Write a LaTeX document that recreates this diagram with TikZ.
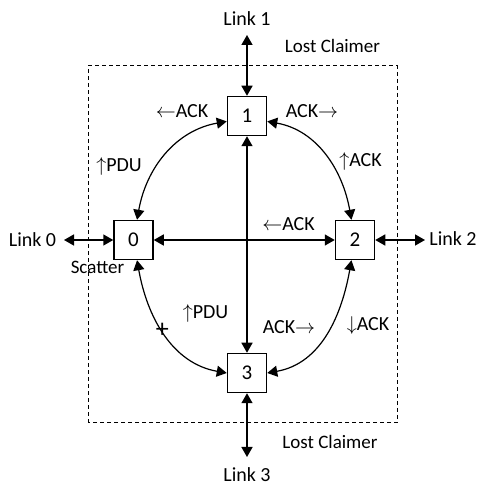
\documentclass[tikz,border=0pt]{standalone}
\usepackage{fontspec}
\setmainfont{Carlito}
\usetikzlibrary{arrows.meta}
\tikzset{
    station/.style={draw, line width=0.75pt, minimum size=19.5pt, inner sep=0pt, font=\fontsize{10.5}{12}\selectfont},
    msglabel/.style={anchor=base, inner sep=0pt, font=\fontsize{10}{12}\selectfont},
    smalllabel/.style={anchor=base, inner sep=0pt, font=\fontsize{9.5}{12}\selectfont},
    link/.style={line width=0.75pt, {Triangle[length=5pt,width=5.5pt]}-{Triangle[length=5pt,width=5.5pt]}},
    claim/.style={line width=0.6pt, {Triangle[length=5pt,width=5.5pt]}-{Triangle[length=5pt,width=5.5pt]}}
}

\begin{document}
\begin{tikzpicture}[x=0.5pt, y=0.5pt]
            \useasboundingbox (0,0) rectangle (479,487);
            % lost claimer region
            \draw[line width=0.5pt, dash pattern=on 2pt off 1.5pt] (88,64) rectangle (397,421);

            % stations
            \node[station] (n0) at (133.5,247) {0};
            \node[station] (n1) at (247,371) {1};
            \node[station] (n2) at (355,247) {2};
            \node[station] (n3) at (247,114) {3};

            % outer links
            \coordinate (e0) at (64,247); \coordinate (e1) at (247,452);
            \coordinate (e2) at (425,247); \coordinate (e3) at (247,30);
            \draw[link] (e0) -- (n0); \draw[link] (e1) -- (n1);
            \draw[link] (e2) -- (n2); \draw[link] (e3) -- (n3);

            \node[msglabel] (l0) at (32.5,240) {Link 0};
            \node[msglabel] (l1) at (247,461) {Link 1};
            \node[msglabel] (l2) at (453,241) {Link 2};
            \node[msglabel] (l3) at (247,5) {Link 3};

            % cross links
            \draw[link] (n0) -- (n2);
            \draw[link] (n1) -- (n3);

            % ring
            \draw[claim] (n0.80) to[out=80, in=190] (n1.195);
            \draw[claim] (n1.-15) to[out=-10, in=100] (n2.100);
            \draw[claim] (n0.-80) to[out=-80, in=170] node[pos=0.47, inner sep=0pt, font=\fontsize{13}{14}\selectfont] (cut) {+} (n3.west);
            \draw[claim] (n2.-100) to[out=-100, in=10] (n3.east);

            % messages
            \node[msglabel] (m1) at (182,369) {$\leftarrow$ACK};
            \node[msglabel] (m2) at (312,369) {ACK$\rightarrow$};
            \node[msglabel] (m3) at (119,315) {$\uparrow$PDU};
            \node[msglabel] (m4) at (360.5,320) {$\uparrow$ACK};
            \node[msglabel] (m5) at (288.5,256) {$\leftarrow$ACK};
            \node[msglabel] (m6) at (205.5,168) {$\uparrow$PDU};
            \node[msglabel] (m7) at (289,153) {ACK$\rightarrow$};
            \node[msglabel] (m8) at (368,156) {$\downarrow$ACK};

            \node[smalllabel] (lc1) at (332.5,434) {Lost Claimer};
            \node[smalllabel] (lc2) at (330,39) {Lost Claimer};
            \node[smalllabel] (sc) at (97.5,213) {Scatter};
        \end{tikzpicture}
\end{document}
